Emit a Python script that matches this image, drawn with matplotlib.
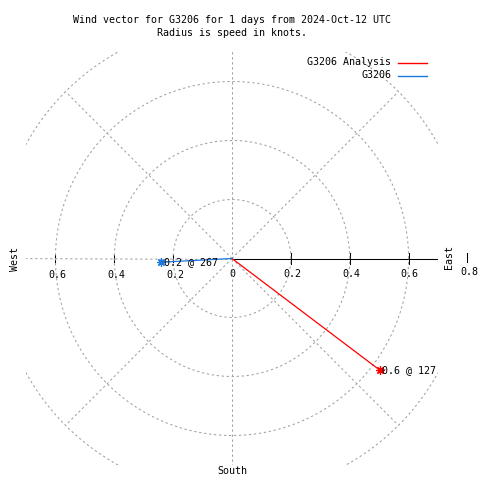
import numpy as np
import matplotlib
matplotlib.use("Agg")
import matplotlib.pyplot as plt

# ---- data ----
series_names = ["G3206 Analysis", "G3206"]
series_colors = ["#ff0000", "#1a78e0"]
speeds = [0.63, 0.24]          # knots
directions = [127, 267]        # degrees (compass)
point_labels = ["0.6 @ 127", "0.2 @ 267"]
grid_radii = [0.2, 0.4, 0.6, 0.8]
right_ticks = [0.2, 0.4, 0.6]
left_ticks = [0.2, 0.4, 0.6]
spoke_angles = [0, 45, 90, 135, 180, 225, 270, 315]
title_lines = ["Wind vector for G3206 for 1 days from 2024-Oct-12 UTC",
               "Radius is speed in knots."]

FONT = "DejaVu Sans Mono"
FS = 7.2
GRAY = "#a0a0a0"
DASH = (0, (2.2, 2.6))
LW = 0.75

fig = plt.figure(figsize=(4.8, 4.8), dpi=100)
W = 480.0
ax = fig.add_axes([26 / W, (480 - 465) / W, 412 / W, 413 / W])
ax.set_xlim(-0.7, 0.7)
ax.set_ylim(-0.7, 0.7)
ax.axis("off")

# grid circles
t = np.linspace(0, 2 * np.pi, 721)
for r in grid_radii:
    ax.plot(r * np.cos(t), r * np.sin(t), color=GRAY, lw=LW, ls=DASH, zorder=3)

# spokes (to r=0.8)
for a in spoke_angles:
    if a == 0:
        continue
    ar = np.deg2rad(a)
    ax.plot([0, 0.8 * np.cos(ar)], [0, 0.8 * np.sin(ar)], color=GRAY, lw=LW,
            ls=DASH, zorder=3)

# black r-axis to the east
ax.plot([0, 0.72], [0, 0], color="black", lw=LW, zorder=2)
for r in right_ticks:
    ax.plot([r, r], [-0.017, 0.017], color="black", lw=LW, zorder=2)
for r in left_ticks:
    ax.plot([-r, -r], [-0.012, 0.012], color="black", lw=LW, zorder=2)
ax.plot([0.8, 0.8], [-0.013, 0.017], color="black", lw=LW, zorder=2, clip_on=False)

# tick labels
ty = -0.053
ax.text(0, ty, "0", ha="center", va="center", family=FONT, fontsize=FS, zorder=1)
for r in right_ticks:
    ax.text(r + 0.004, ty, f"{r:.1f}", ha="center", va="center", family=FONT,
            fontsize=FS, zorder=1)
for r in left_ticks:
    ax.text(-r + 0.007, ty - 0.004, f"{r:.1f}", ha="center", va="center",
            family=FONT, fontsize=FS, zorder=1)
ax.text(0.807, -0.047, "0.8", ha="center", va="center", family=FONT,
        fontsize=FS, clip_on=False)

# compass labels
ax.text(0.739, 0.004, "East", rotation=90, ha="center", va="center",
        family=FONT, fontsize=FS, clip_on=False)
ax.text(-0.736, -0.002, "West", rotation=90, ha="center", va="center",
        family=FONT, fontsize=FS, clip_on=False)
ax.text(0, -0.72, "South", ha="center", va="center", family=FONT,
        fontsize=FS, clip_on=False)

# vectors
for name, col, s, d, lab in zip(series_names, series_colors, speeds,
                                directions, point_labels):
    th = np.deg2rad(d)
    x, y = s * np.sin(th), s * np.cos(th)
    ax.plot([0, x], [0, y], color=col, lw=0.9, zorder=5)
    ax.plot([x], [y], marker=(8, 2, 0), ms=6, mec=col, mew=0.9, ls="none",
            zorder=6)
    ax.annotate(lab, (x, y), xytext=(1.5, 0), textcoords="offset points",
                ha="left", va="center", family=FONT, fontsize=FS, zorder=7)

# legend
legend_y = [62.5, 75.5]
for name, col, yy in zip(series_names, series_colors, legend_y):
    fig.text(391 / W, 1 - (yy - 0.5) / W, name, ha="right", va="center",
             family=FONT, fontsize=FS)
    fig.add_artist(plt.Line2D([398 / W, 427 / W], [1 - yy / W, 1 - yy / W],
                              color=col, lw=1.0, transform=fig.transFigure))

# title
fig.text(232 / W, 1 - 20 / W, title_lines[0], ha="center", va="center",
         family=FONT, fontsize=FS)
fig.text(232 / W, 1 - 33 / W, title_lines[1], ha="center", va="center",
         family=FONT, fontsize=FS)

fig.savefig("out.png", dpi=100)
